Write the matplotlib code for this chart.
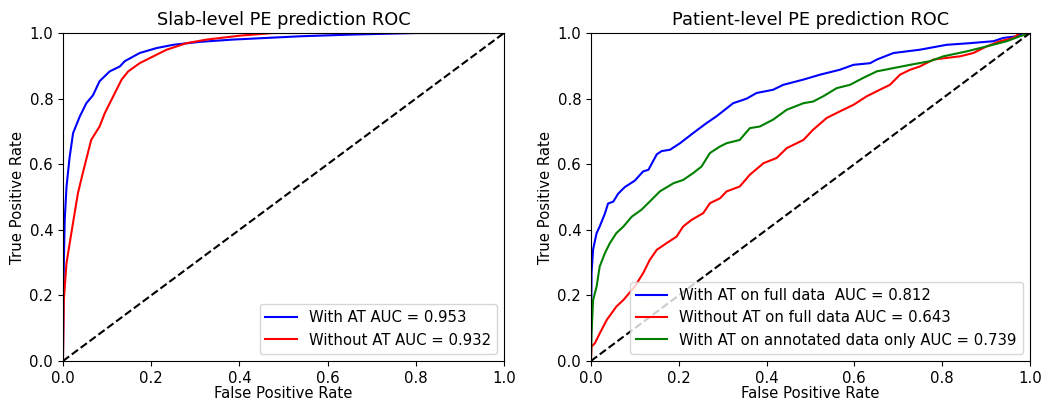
import numpy as np
import matplotlib
matplotlib.use("Agg")
import matplotlib.pyplot as plt

# Slab-level ROC
slab_with_fpr = [0, 0.002, 0.004, 0.008, 0.015, 0.023, 0.038, 0.053, 0.068, 0.083, 0.106, 0.129,
                 0.14, 0.174, 0.212, 0.25, 0.31, 0.386, 0.462, 0.538, 0.65, 0.803, 1.0]
slab_with_tpr = [0, 0.3, 0.43, 0.53, 0.62, 0.695, 0.745, 0.786, 0.81, 0.853, 0.883, 0.898,
                 0.914, 0.939, 0.954, 0.964, 0.973, 0.98, 0.985, 0.99, 0.995, 1.0, 1.0]
slab_without_fpr = [0, 0.002, 0.008, 0.019, 0.034, 0.045, 0.064, 0.083, 0.095, 0.114, 0.133, 0.148,
                    0.174, 0.205, 0.235, 0.28, 0.326, 0.402, 0.477, 1.0]
slab_without_tpr = [0, 0.186, 0.298, 0.39, 0.512, 0.573, 0.674, 0.715, 0.756, 0.807, 0.858, 0.883,
                    0.908, 0.929, 0.949, 0.969, 0.98, 0.992, 1.0, 1.0]

# Patient-level ROC
pat_with_fpr = [0, 0.0015, 0.005, 0.013, 0.02, 0.032, 0.039, 0.051, 0.062, 0.077, 0.1, 0.119, 0.131,
                0.15, 0.161, 0.18, 0.203, 0.233, 0.263, 0.286, 0.324, 0.355, 0.377, 0.415, 0.438,
                0.484, 0.522, 0.567, 0.598, 0.636, 0.651, 0.689, 0.749, 0.81, 0.863, 0.917, 0.939,
                0.97, 0.985, 1.0]
pat_with_tpr = [0, 0.27, 0.34, 0.39, 0.41, 0.45, 0.48, 0.486, 0.51, 0.53, 0.55, 0.578, 0.583,
                0.63, 0.64, 0.644, 0.664, 0.695, 0.725, 0.746, 0.786, 0.80, 0.817, 0.827, 0.842,
                0.858, 0.873, 0.888, 0.903, 0.908, 0.919, 0.939, 0.949, 0.964, 0.969, 0.975, 0.985,
                0.99, 1.0, 1.0]
pat_without_fpr = [0, 0.0015, 0.009, 0.02, 0.036, 0.058, 0.074, 0.1, 0.119, 0.134, 0.15, 0.172, 0.195,
                   0.21, 0.229, 0.256, 0.271, 0.294, 0.309, 0.339, 0.362, 0.393, 0.423, 0.446, 0.484,
                   0.506, 0.537, 0.567, 0.598, 0.628, 0.658, 0.681, 0.704, 0.727, 0.749, 0.78, 0.81,
                   0.841, 0.871, 0.901, 0.932, 0.962, 0.977, 1.0]
pat_without_tpr = [0, 0.044, 0.054, 0.084, 0.125, 0.166, 0.186, 0.227, 0.268, 0.308, 0.339, 0.359, 0.379,
                   0.41, 0.43, 0.451, 0.481, 0.496, 0.517, 0.532, 0.568, 0.603, 0.619, 0.649, 0.674,
                   0.705, 0.741, 0.761, 0.781, 0.807, 0.827, 0.842, 0.873, 0.888, 0.898, 0.919, 0.924,
                   0.929, 0.939, 0.959, 0.975, 0.985, 1.0, 1.0]
pat_annot_fpr = [0, 0.0015, 0.005, 0.013, 0.02, 0.032, 0.043, 0.058, 0.074, 0.093, 0.115, 0.134, 0.157,
                 0.188, 0.21, 0.233, 0.252, 0.271, 0.294, 0.309, 0.339, 0.362, 0.385, 0.415, 0.446,
                 0.484, 0.506, 0.529, 0.56, 0.59, 0.62, 0.651, 0.689, 0.727, 0.772, 0.803, 0.856,
                 0.901, 0.947, 0.977, 1.0]
pat_annot_tpr = [0, 0.084, 0.186, 0.227, 0.288, 0.329, 0.359, 0.39, 0.41, 0.44, 0.461, 0.486, 0.517,
                 0.542, 0.552, 0.573, 0.593, 0.634, 0.654, 0.664, 0.674, 0.71, 0.715, 0.736, 0.766,
                 0.786, 0.791, 0.807, 0.832, 0.842, 0.863, 0.883, 0.893, 0.903, 0.914, 0.929, 0.944,
                 0.959, 0.975, 0.99, 1.0]

fig = plt.figure(figsize=(10.44, 4), dpi=100)
ax1 = fig.add_axes([0.0603, 0.0975, 0.4225, 0.82])
ax2 = fig.add_axes([0.566, 0.0975, 0.4206, 0.82])

fs = 10.7

ax1.plot(slab_with_fpr, slab_with_tpr, 'b', label='With AT AUC = 0.953')
ax1.plot(slab_without_fpr, slab_without_tpr, 'r', label='Without AT AUC = 0.932')
ax1.plot([0, 1], [0, 1], 'k--')
ax1.set_title('Slab-level PE prediction ROC', fontsize=12.8)

ax2.plot(pat_with_fpr, pat_with_tpr, 'b', label='With AT on full data  AUC = 0.812')
ax2.plot(pat_without_fpr, pat_without_tpr, 'r', label='Without AT on full data AUC = 0.643')
ax2.plot(pat_annot_fpr, pat_annot_tpr, 'g', label='With AT on annotated data only AUC = 0.739')
ax2.plot([0, 1], [0, 1], 'k--')
ax2.set_title('Patient-level PE prediction ROC', fontsize=12.8)

for ax in (ax1, ax2):
    ax.set_xlim(0, 1)
    ax.set_ylim(0, 1)
    ax.set_xlabel('False Positive Rate', fontsize=fs, labelpad=0)
    ax.set_ylabel('True Positive Rate', fontsize=fs, labelpad=3)
    ax.tick_params(labelsize=fs)
    ax.legend(loc='lower right', fontsize=fs, handlelength=2.1)

plt.savefig('out.png', dpi=100)
